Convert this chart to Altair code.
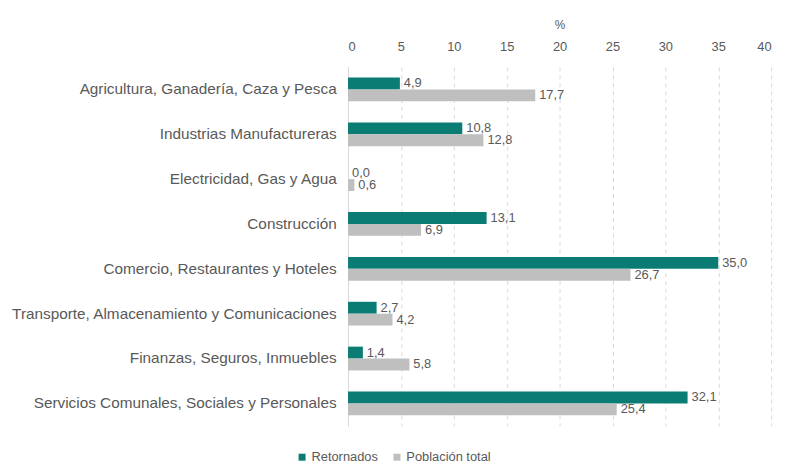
import altair as alt
import pandas as pd

categories = [
    "Agricultura, Ganadería, Caza y Pesca",
    "Industrias Manufactureras",
    "Electricidad, Gas y Agua",
    "Construcción",
    "Comercio, Restaurantes y Hoteles",
    "Transporte, Almacenamiento y Comunicaciones",
    "Finanzas, Seguros, Inmuebles",
    "Servicios Comunales, Sociales y Personales",
]
retornados = [4.9, 10.8, 0.0, 13.1, 35.0, 2.7, 1.4, 32.1]
poblacion = [17.7, 12.8, 0.6, 6.9, 26.7, 4.2, 5.8, 25.4]
series = ["Retornados", "Población total"]
colors = ["#0a7c74", "#bfbfbf"]
x_ticks = [0, 5, 10, 15, 20, 25, 30, 35, 40]

rows = []
for c, r, p in zip(categories, retornados, poblacion):
    rows.append({"cat": c, "serie": series[0], "valor": r})
    rows.append({"cat": c, "serie": series[1], "valor": p})
df = pd.DataFrame(rows)
df["etiqueta"] = df["valor"].map(lambda v: f"{v:.1f}".replace(".", ","))

FONT = "Liberation Sans"
TXT = "#595959"

y = alt.Y(
    "cat:N",
    sort=categories,
    scale=alt.Scale(paddingInner=0.47, paddingOuter=0.235),
    axis=alt.Axis(
        title=None, ticks=False, labelPadding=12, labelFontSize=15.5,
        labelColor=TXT, labelFont=FONT, domainColor="#d9d9d9", labelLimit=500,
        grid=False,
    ),
)
yoff = alt.YOffset("serie:N", sort=series, scale=alt.Scale(paddingInner=0, paddingOuter=0))
x = alt.X(
    "valor:Q",
    scale=alt.Scale(domain=[0, 40], nice=False),
    axis=alt.Axis(
        orient="top", title="%", values=x_ticks, ticks=False, grid=True,
        gridDash=[4, 4], gridColor="#d9d9d9", domain=False,
        labelPadding=14, titlePadding=9, labelFontSize=13, labelColor=TXT,
        labelFont=FONT, titleFont=FONT, titleFontSize=12, titleFontWeight="normal",
        titleColor=TXT,
    ),
)
color = alt.Color(
    "serie:N",
    sort=series,
    scale=alt.Scale(domain=series, range=colors),
    legend=alt.Legend(
        title=None, orient="none", legendX=-53, legendY=388, direction="horizontal",
        symbolType="square", symbolSize=50, symbolStrokeWidth=0, labelFontSize=13,
        labelFont=FONT, labelColor=TXT, columnPadding=12, labelOffset=3,
    ),
)

base = alt.Chart(df).encode(y=y, yOffset=yoff, x=x)
bars = base.mark_bar().encode(color=color)
labels = base.mark_text(
    align="left", baseline="middle", dx=4, fontSize=13, font=FONT, color=TXT
).encode(text="etiqueta:N")

chart = (
    (bars + labels)
    .properties(
        width=428, height=363, background="white",
        padding={"left": 2, "top": 8, "right": 12, "bottom": 0},
    )
    .configure_view(stroke="transparent", strokeWidth=0)
)
chart.save("out.html", embed_options={"renderer": "svg", "actions": False})
